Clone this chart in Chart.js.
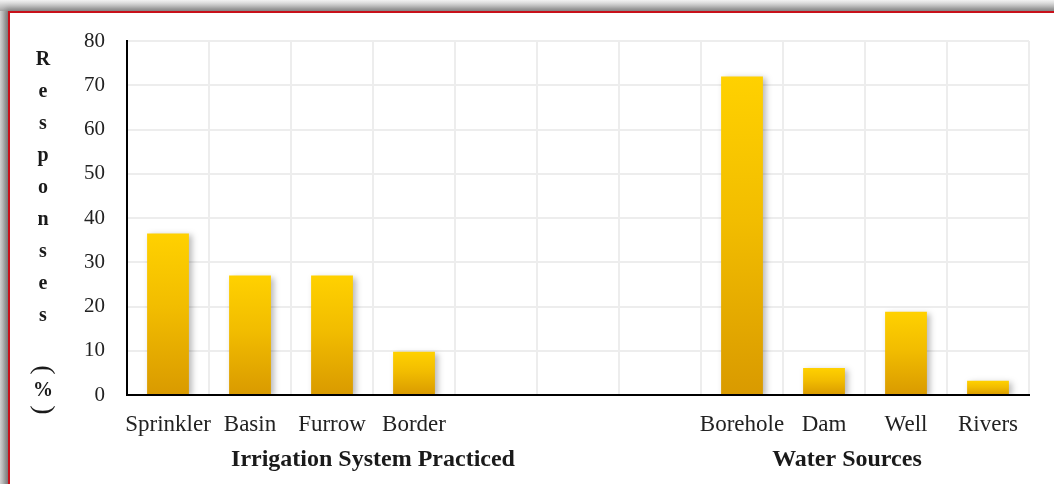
<!DOCTYPE html>
<html>
<head>
<meta charset="utf-8">
<script src="https://cdn.jsdelivr.net/npm/chart.js@4.4.1/dist/chart.umd.min.js"></script>
<style>
  html, body { margin: 0; padding: 0; }
  body {
    width: 1054px; height: 484px; overflow: hidden; position: relative;
    background: linear-gradient(to bottom, #f2f2f2 0px, #a8a8a8 11px, #a8a8a8 100%);
  }
  #frame {
    position: absolute; left: 8px; top: 11px; width: 1060px; height: 490px;
    background: #ffffff; border-left: 2px solid #c8101a; border-top: 2px solid #c8101a;
    box-shadow: -3px -3px 6px rgba(0,0,0,0.25);
  }
  #leftShade {
    position: absolute; left: 0; top: 11px; width: 8px; height: 473px;
    background: linear-gradient(to right, #d4d4d4, #9a9a9a);
  }
  #wrap { position: absolute; left: 0; top: 0; width: 1054px; height: 484px; }
</style>
</head>
<body>
<div id="leftShade"></div>
<div id="frame"></div>
<div id="wrap"><canvas id="chart" width="1054" height="484"></canvas></div>
<script>
// Categories: irrigation systems, three spacer slots, then water sources
const categories = ['Sprinkler', 'Basin', 'Furrow', 'Border', '', '', '', 'Borehole', 'Dam', 'Well', 'Rivers'];
// Share of responses (%)
const responses = [36.5, 27, 27, 9.8, null, null, null, 72, 6.1, 18.8, 3.2];
// Group captions under the category labels, with the category position they sit under
const groupLabels = ['Irrigation System Practiced', 'Water Sources'];
const groupCentres = [2.5, 8.28];
// Vertical axis caption, one glyph per line
const yTitleLetters = ['R', 'e', 's', 'p', 'o', 'n', 's', 'e', 's'];
const yTitleTail = ['(', '%', ')'];
const yMax = 80;
const yStep = 10;

const serif = "'Liberation Serif', 'DejaVu Serif', serif";

function barGradient(context) {
  const chart = context.chart;
  const area = chart.chartArea;
  const v = context.raw;
  if (!area || v == null) return '#f2bd00';
  const y = chart.scales.y;
  const top = y.getPixelForValue(v);
  const base = y.getPixelForValue(0);
  const g = chart.ctx.createLinearGradient(0, top, 0, base);
  g.addColorStop(0, '#ffd100');
  g.addColorStop(0.45, '#f2bd00');
  g.addColorStop(1, '#d99a00');
  return g;
}

// Soft drop shadow behind the bars
const barShadow = {
  id: 'barShadow',
  beforeDatasetsDraw(chart) {
    const c = chart.ctx;
    c.save();
    c.shadowColor = 'rgba(0,0,0,0.28)';
    c.shadowBlur = 6;
    c.shadowOffsetX = 3;
    c.shadowOffsetY = 2;
  },
  afterDatasetsDraw(chart) {
    chart.ctx.restore();
  }
};

// Stacked-letter axis caption and group captions
const captions = {
  id: 'captions',
  afterDraw(chart) {
    const c = chart.ctx;
    const x = chart.scales.x;
    c.save();
    c.fillStyle = '#1a1a1a';
    c.textAlign = 'center';
    c.textBaseline = 'middle';
    c.font = 'bold 20px ' + serif;
    const cx = 43;
    yTitleLetters.forEach((ch, i) => {
      c.fillText(ch, cx, 60 + i * 32);
    });
    // parentheses turned a quarter so they cap the % sign
    const tailY = [370, 391, 410];
    yTitleTail.forEach((ch, i) => {
      c.save();
      c.translate(cx, tailY[i]);
      if (ch !== '%') c.rotate(Math.PI / 2);
      c.font = (ch === '%' ? 'bold 20px ' : '28px ') + serif;
      c.fillText(ch, 0, 0);
      c.restore();
    });
    c.font = 'bold 24px ' + serif;
    groupLabels.forEach((t, i) => {
      c.fillText(t, x.getPixelForValue(groupCentres[i]), 460);
    });
    c.restore();
  }
};

new Chart(document.getElementById('chart'), {
  type: 'bar',
  data: {
    labels: categories,
    datasets: [{
      data: responses,
      backgroundColor: barGradient,
      borderWidth: 0,
      barPercentage: 0.51,
      categoryPercentage: 1.0
    }]
  },
  options: {
    responsive: false,
    animation: false,
    layout: { padding: { left: 0, top: 41, right: 25, bottom: 0 } },
    plugins: { legend: { display: false }, tooltip: { enabled: false } },
    scales: {
      x: {
        grid: { color: '#ededed', lineWidth: 2, drawTicks: false, offset: true },
        border: { color: '#000000', width: 2 },
        ticks: { color: '#222222', font: { family: serif, size: 23 }, padding: 16, maxRotation: 0, autoSkip: false },
        afterFit(scale) { scale.height = 89; }
      },
      y: {
        min: 0,
        max: yMax,
        grid: { color: '#ededed', lineWidth: 2, drawTicks: false },
        border: { color: '#000000', width: 2 },
        ticks: { stepSize: yStep, color: '#222222', font: { family: serif, size: 21 }, padding: 22 },
        afterFit(scale) { scale.width = 127; }
      }
    }
  },
  plugins: [barShadow, captions]
});
</script>
</body>
</html>
